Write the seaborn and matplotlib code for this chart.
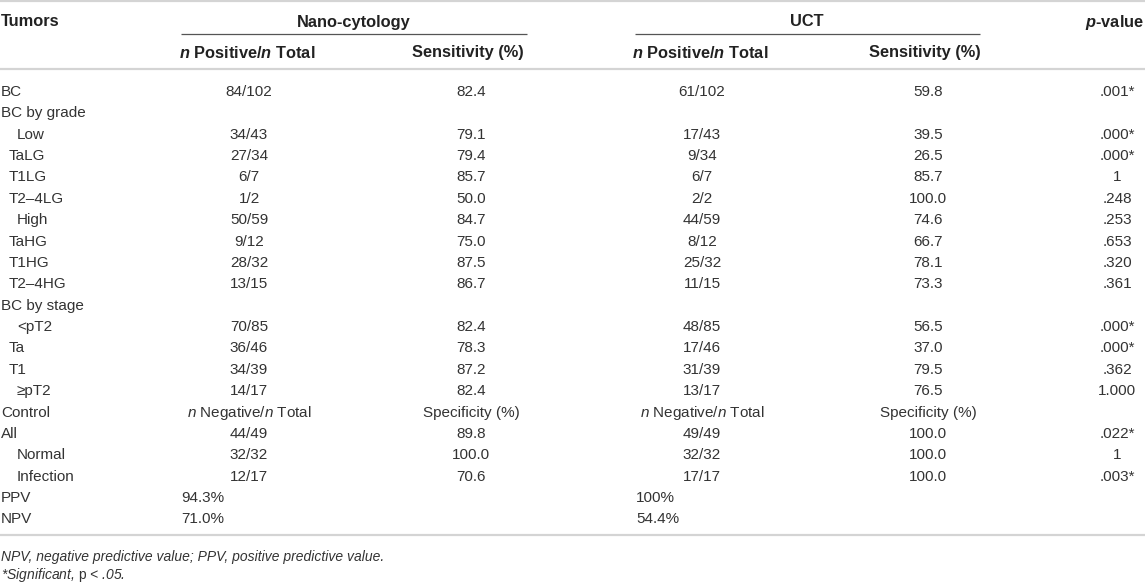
import matplotlib
matplotlib.use("Agg")
import matplotlib.pyplot as plt
import seaborn as sns
import pandas as pd

sns.set_theme(style="white")
plt.rcParams["font.family"] = ["Liberation Sans", "DejaVu Sans"]
plt.rcParams["mathtext.fontset"] = "custom"
plt.rcParams["mathtext.rm"] = "Liberation Sans"
plt.rcParams["mathtext.it"] = "Liberation Sans:italic"
plt.rcParams["mathtext.bf"] = "Liberation Sans:bold"
plt.rcParams["mathtext.bfit"] = "Liberation Sans:italic:bold"

# table data
row_labels = ["BC", "BC by grade", "Low", "TaLG", "T1LG", "T2–4LG", "High", "TaHG",
              "T1HG", "T2–4HG", "BC by stage", "<pT2", "Ta", "T1", "≥pT2", "Control",
              "All", "Normal", "Infection", "PPV", "NPV"]
indent = [0, 0, 2, 1, 1, 1, 2, 1, 1, 1, 0, 2, 1, 1, 2, 0, 0, 2, 2, 0, 0]
nano_n = ["84/102", "", "34/43", "27/34", "6/7", "1/2", "50/59", "9/12", "28/32", "13/15",
          "", "70/85", "36/46", "34/39", "14/17", "", "44/49", "32/32", "12/17", "", ""]
nano_sens = ["82.4", "", "79.1", "79.4", "85.7", "50.0", "84.7", "75.0", "87.5", "86.7",
             "", "82.4", "78.3", "87.2", "82.4", "", "89.8", "100.0", "70.6", "", ""]
uct_n = ["61/102", "", "17/43", "9/34", "6/7", "2/2", "44/59", "8/12", "25/32", "11/15",
         "", "48/85", "17/46", "31/39", "13/17", "", "49/49", "32/32", "17/17", "", ""]
uct_sens = ["59.8", "", "39.5", "26.5", "85.7", "100.0", "74.6", "66.7", "78.1", "73.3",
            "", "56.5", "37.0", "79.5", "76.5", "", "100.0", "100.0", "100.0", "", ""]
p_vals = [".001*", "", ".000*", ".000*", "1", ".248", ".253", ".653", ".320", ".361",
          "", ".000*", ".000*", ".362", "1.000", "", ".022*", "1", ".003*", "", ""]
ppv = ["94.3%", "100%"]
npv = ["71.0%", "54.4%"]

df = pd.DataFrame({"label": row_labels, "indent": indent, "nano_n": nano_n,
                   "nano_sens": nano_sens, "uct_n": uct_n, "uct_sens": uct_sens, "p": p_vals})

fig = plt.figure(figsize=(11.45, 5.83), dpi=100)
ax = fig.add_axes([0, 0, 1, 1])
ax.set_xlim(0, 1145)
ax.set_ylim(583, 0)
ax.axis("off")

body = "#333333"
head = "#222222"
fs = 11
col_x = {"nano_n": 249, "nano_sens": 471, "uct_n": 702, "uct_sens": 928, "p": 1117}

# rules
ax.hlines([1, 69, 535], 0, 1145, color="#d4d4d4", lw=1.6)
ax.hlines(34, 181, 527, color="#555555", lw=0.9)
ax.hlines(34, 635, 980, color="#555555", lw=0.9)

# header
hkw = dict(fontsize=11.8, fontweight="bold", color=head, va="baseline")
ax.text(1, 26.5, "Tumors", ha="left", **hkw)
ax.text(354, 26.5, "Nano-cytology", ha="center", **hkw)
ax.text(807, 26.5, "UCT", ha="center", **hkw)
ax.text(1144, 26.5, r"$\mathbfit{p}$-value", ha="right", **hkw)
for c in ["nano_n", "uct_n"]:
    ax.text(col_x[c] - 2, 57.5, r"$\mathbfit{n}$ Positive/$\mathbfit{n}$ Total", ha="center", **hkw)
for c in ["nano_sens", "uct_sens"]:
    ax.text(col_x[c] - 3, 57.5, "Sensitivity (%)", ha="center", **hkw)

# body rows
bkw = dict(fontsize=fs, color=body, va="baseline")
y0, dy = 96, 21.37
for i, r in df.iterrows():
    y = y0 + i * dy
    ax.text(1 + 8 * r["indent"], y, r["label"], ha="left", **bkw)
    if r["label"] == "Control":
        for c in ["nano_n", "uct_n"]:
            ax.text(col_x[c], y, r"$\mathit{n}$ Negative/$\mathit{n}$ Total", ha="center", **bkw)
        for c in ["nano_sens", "uct_sens"]:
            ax.text(col_x[c], y, "Specificity (%)", ha="center", **bkw)
        continue
    for c in ["nano_n", "nano_sens", "uct_n", "uct_sens", "p"]:
        if r[c]:
            ax.text(col_x[c], y, r[c], ha="center", **bkw)

for i, vals in [(19, ppv), (20, npv)]:
    y = y0 + i * dy
    ax.text(181, y, vals[0], ha="left", **bkw)
    ax.text(636, y, vals[1], ha="left", **bkw)

# footnotes
fkw = dict(fontsize=10, color=body, va="baseline", ha="left", fontstyle="italic")
ax.text(1, 561, "NPV, negative predictive value; PPV, positive predictive value.", **fkw)
ax.text(1, 579, r"*Significant, $\mathrm{p}$ < .05.", **fkw)

fig.savefig("out.png", dpi=100)
